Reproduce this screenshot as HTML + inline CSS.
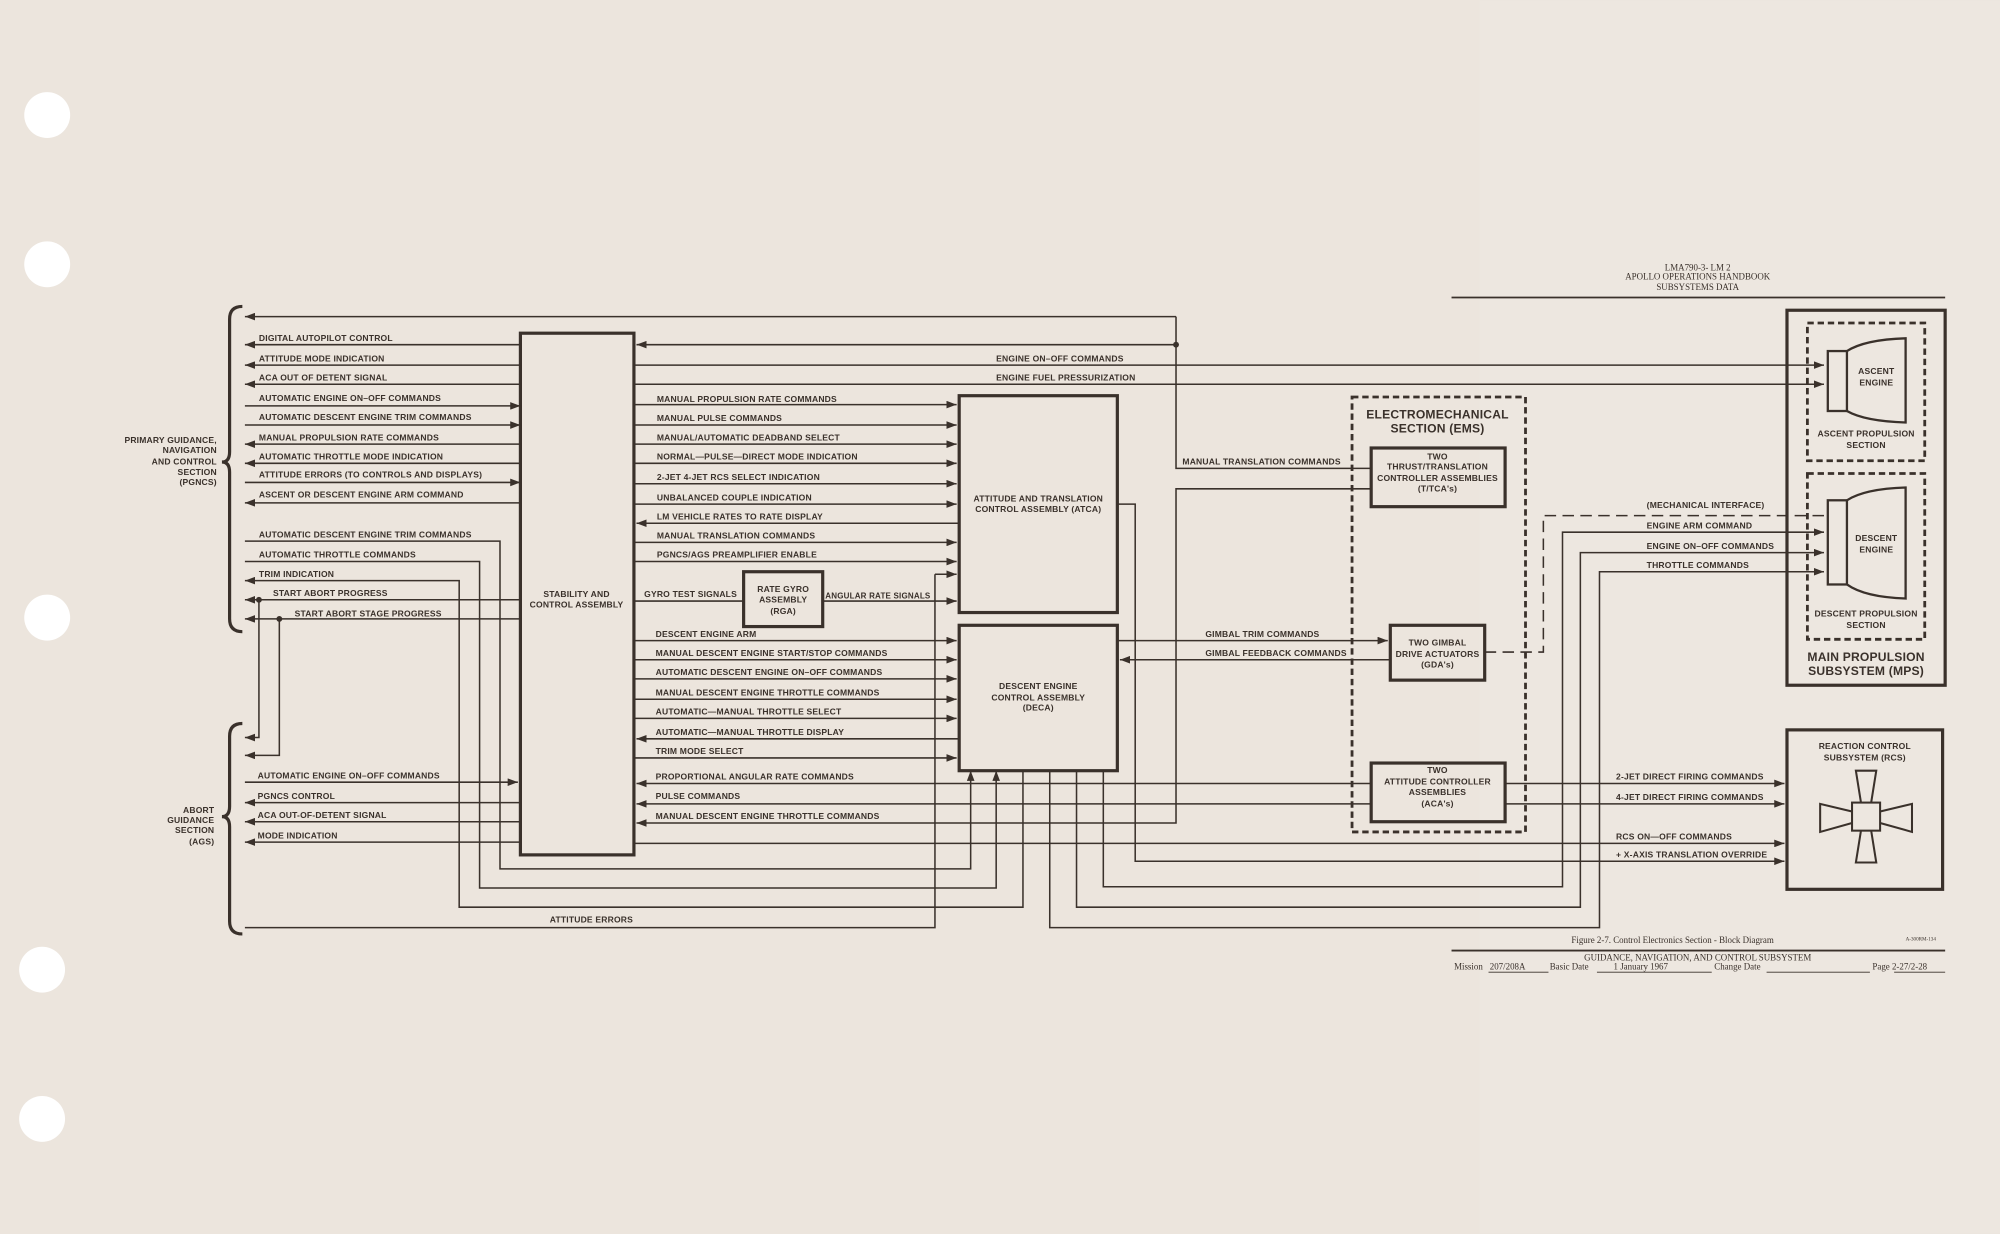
<!DOCTYPE html>
<html><head><meta charset="utf-8"><style>
html,body{margin:0;padding:0;background:#ece5dd;}
svg{display:block}
text{font-family:"Liberation Sans",sans-serif;font-size:6.7px;font-weight:bold;fill:#3a312b;letter-spacing:0.15px}
.s{font-family:"Liberation Serif",serif;font-size:7px;letter-spacing:0;font-weight:normal}
.b{font-weight:bold}
</style></head><body>
<svg width="2000" height="1234" viewBox="0 0 1568 967" xmlns="http://www.w3.org/2000/svg">
<defs>
<marker id="a" viewBox="0 0 8 6" refX="8" refY="3" markerWidth="8" markerHeight="6" markerUnits="userSpaceOnUse" orient="auto"><path d="M0,0L8,3L0,6z" fill="#3a312b"/></marker>
</defs>
<rect width="1568" height="967" fill="#ece5dd"/>
<rect x="1160" width="408" height="967" fill="#ede7e0"/>
<g fill="#fff"><circle cx="37" cy="90" r="18"/><circle cx="37" cy="207" r="18"/><circle cx="37" cy="484" r="18"/><circle cx="33" cy="760" r="18"/><circle cx="33" cy="877" r="18"/></g>

<g stroke="#3a312b" stroke-width="1.2" fill="none">
<path d="M190,240 Q180,240 180,250 L180,354 Q180,362 174,362 Q180,362 180,370 L180,485 Q180,495 190,495" stroke-width="2.5"/>
<path d="M190,567 Q180,567 180,577 L180,632 Q180,640 174,640 Q180,640 180,648 L180,722 Q180,732 190,732" stroke-width="2.5"/>
<rect x="408" y="261" width="89" height="409" stroke-width="2.5"/>
<rect x="752" y="310" width="124" height="170" stroke-width="2.5"/>
<rect x="752" y="490" width="124" height="114" stroke-width="2.5"/>
<rect x="583" y="448" width="62" height="43" stroke-width="2.5"/>
<rect x="1060" y="311" width="136" height="341" stroke-width="2.2" stroke-dasharray="5,3"/>
<rect x="1075" y="351" width="105" height="46" stroke-width="2.5"/>
<rect x="1090" y="490" width="74" height="43" stroke-width="2.5"/>
<rect x="1075" y="598" width="105" height="46" stroke-width="2.5"/>
<rect x="1401" y="243" width="124" height="294" stroke-width="2.5"/>
<rect x="1417" y="253" width="92" height="108" stroke-width="2.2" stroke-dasharray="5,3"/>
<rect x="1417" y="371" width="92" height="130" stroke-width="2.2" stroke-dasharray="5,3"/>
<rect x="1401" y="572" width="122" height="125" stroke-width="2.5"/>
<rect x="1433" y="275" width="15" height="47" stroke-width="1.8"/>
<path d="M1448,275 Q1462,266 1494,265 L1494,331 Q1462,330 1448,322" stroke-width="1.8"/>
<rect x="1433" y="392" width="15" height="66" stroke-width="1.8"/>
<path d="M1448,392 Q1462,383 1494,382 L1494,469 Q1462,468 1448,458" stroke-width="1.8"/>
<g stroke-width="1.6">
<rect x="1452" y="629" width="22" height="22"/>
<path d="M1459,629 L1455,604 L1471,604 L1467,629"/>
<path d="M1459,651 L1455,676 L1471,676 L1467,651"/>
<path d="M1452,636 L1427,630 L1427,652 L1452,645"/>
<path d="M1474,636 L1499,630 L1499,652 L1474,645"/>
</g>

<path d="M922,248 L192,248" marker-end="url(#a)"/>
<path d="M408,270 L192,270" marker-end="url(#a)"/>
<path d="M408,286 L192,286" marker-end="url(#a)"/>
<path d="M408,301 L192,301" marker-end="url(#a)"/>
<path d="M192,318 L408,318" marker-end="url(#a)"/>
<path d="M192,333 L408,333" marker-end="url(#a)"/>
<path d="M408,348 L192,348" marker-end="url(#a)"/>
<path d="M408,363 L192,363" marker-end="url(#a)"/>
<path d="M192,378 L408,378" marker-end="url(#a)"/>
<path d="M408,394 L192,394" marker-end="url(#a)"/>
<path d="M192,424 L392,424 L392,681 L761,681 L761,604" marker-end="url(#a)"/>
<path d="M192,440 L376,440 L376,696 L781,696 L781,604" marker-end="url(#a)"/>
<path d="M802,604 L802,711 L360,711 L360,455 L192,455" marker-end="url(#a)"/>
<path d="M408,470 L192,470" marker-end="url(#a)"/>
<path d="M408,485 L192,485" marker-end="url(#a)"/>
<path d="M203,470 L203,578 L192,578" marker-end="url(#a)"/>
<path d="M219,485 L219,592 L192,592" marker-end="url(#a)"/>
<path d="M192,613 L406,613" marker-end="url(#a)"/>
<path d="M408,629 L192,629" marker-end="url(#a)"/>
<path d="M408,644 L192,644" marker-end="url(#a)"/>
<path d="M408,660 L192,660" marker-end="url(#a)"/>
<path d="M192,727 L733,727 L733,450"/>
<path d="M733,450 L750,450" marker-end="url(#a)"/>
<path d="M922,270 L499,270" marker-end="url(#a)"/>
<path d="M497,286 L1430,286" marker-end="url(#a)"/>
<path d="M497,301 L1430,301" marker-end="url(#a)"/>
<path d="M497,317 L750,317" marker-end="url(#a)"/>
<path d="M497,333 L750,333" marker-end="url(#a)"/>
<path d="M497,348 L750,348" marker-end="url(#a)"/>
<path d="M497,363 L750,363" marker-end="url(#a)"/>
<path d="M497,379 L750,379" marker-end="url(#a)"/>
<path d="M497,395 L750,395" marker-end="url(#a)"/>
<path d="M752,410 L499,410" marker-end="url(#a)"/>
<path d="M497,425 L750,425" marker-end="url(#a)"/>
<path d="M497,440 L750,440" marker-end="url(#a)"/>
<path d="M497,471 L583,471"/>
<path d="M645,471 L750,471" marker-end="url(#a)"/>
<path d="M497,502 L750,502" marker-end="url(#a)"/>
<path d="M497,517 L750,517" marker-end="url(#a)"/>
<path d="M497,532 L750,532" marker-end="url(#a)"/>
<path d="M497,548 L750,548" marker-end="url(#a)"/>
<path d="M497,563 L750,563" marker-end="url(#a)"/>
<path d="M752,579 L499,579" marker-end="url(#a)"/>
<path d="M497,594 L750,594" marker-end="url(#a)"/>
<path d="M1075,614 L499,614" marker-end="url(#a)"/>
<path d="M1075,630 L499,630" marker-end="url(#a)"/>
<path d="M1075,383 L922,383 L922,645 L499,645" marker-end="url(#a)"/>
<path d="M497,661 L1399,661" marker-end="url(#a)"/>
<path d="M922,248 L922,367 L1075,367"/>
<path d="M876,395 L890,395 L890,675 L1399,675" marker-end="url(#a)"/>
<path d="M876,502 L1088,502" marker-end="url(#a)"/>
<path d="M1090,517 L878,517" marker-end="url(#a)"/>
<path d="M1180,614 L1399,614" marker-end="url(#a)"/>
<path d="M1180,630 L1399,630" marker-end="url(#a)"/>
<path d="M1164,511 L1210,511 L1210,404 L1430,404" stroke-dasharray="9,5"/>
<path d="M865,604 L865,695 L1225,695 L1225,417 L1430,417" marker-end="url(#a)"/>
<path d="M844,604 L844,711 L1239,711 L1239,433 L1430,433" marker-end="url(#a)"/>
<path d="M823,604 L823,727 L1254,727 L1254,448 L1430,448" marker-end="url(#a)"/>
<path d="M1138,233 L1525,233" stroke-width="1.3"/>
<path d="M1138,745 L1525,745" stroke-width="1.5"/>
</g>
<g fill="#3a312b"><circle cx="922" cy="270" r="2.3"/><circle cx="203" cy="470" r="2.3"/><circle cx="219" cy="485" r="2.3"/></g>

<g>
<text x="203" y="267">DIGITAL AUTOPILOT CONTROL</text>
<text x="203" y="283">ATTITUDE MODE INDICATION</text>
<text x="203" y="298">ACA OUT OF DETENT SIGNAL</text>
<text x="203" y="314">AUTOMATIC ENGINE ON–OFF COMMANDS</text>
<text x="203" y="329">AUTOMATIC DESCENT ENGINE TRIM COMMANDS</text>
<text x="203" y="345">MANUAL PROPULSION RATE COMMANDS</text>
<text x="203" y="360">AUTOMATIC THROTTLE MODE INDICATION</text>
<text x="203" y="374">ATTITUDE ERRORS (TO CONTROLS AND DISPLAYS)</text>
<text x="203" y="390">ASCENT OR DESCENT ENGINE ARM COMMAND</text>
<text x="203" y="421">AUTOMATIC DESCENT ENGINE TRIM COMMANDS</text>
<text x="203" y="437">AUTOMATIC THROTTLE COMMANDS</text>
<text x="203" y="452">TRIM INDICATION</text>
<text x="214" y="467">START ABORT PROGRESS</text>
<text x="231" y="483">START ABORT STAGE PROGRESS</text>
<text x="202" y="610">AUTOMATIC ENGINE ON–OFF COMMANDS</text>
<text x="202" y="626">PGNCS CONTROL</text>
<text x="202" y="641">ACA OUT-OF-DETENT SIGNAL</text>
<text x="202" y="657">MODE INDICATION</text>
<text x="431" y="723">ATTITUDE ERRORS</text>
<g text-anchor="end">
<text x="170" y="347">PRIMARY GUIDANCE,</text><text x="170" y="355">NAVIGATION</text><text x="170" y="364">AND CONTROL</text><text x="170" y="372">SECTION</text><text x="170" y="380">(PGNCS)</text>
<text x="168" y="637">ABORT</text><text x="168" y="645">GUIDANCE</text><text x="168" y="653">SECTION</text><text x="168" y="662">(AGS)</text>
</g>
<text x="515" y="315">MANUAL PROPULSION RATE COMMANDS</text>
<text x="515" y="330">MANUAL PULSE COMMANDS</text>
<text x="515" y="345">MANUAL/AUTOMATIC DEADBAND SELECT</text>
<text x="515" y="360">NORMAL—PULSE—DIRECT MODE INDICATION</text>
<text x="515" y="376">2-JET 4-JET RCS SELECT INDICATION</text>
<text x="515" y="392">UNBALANCED COUPLE INDICATION</text>
<text x="515" y="407">LM  VEHICLE RATES TO RATE DISPLAY</text>
<text x="515" y="422">MANUAL TRANSLATION COMMANDS</text>
<text x="515" y="437">PGNCS/AGS PREAMPLIFIER ENABLE</text>
<text x="505" y="468">GYRO TEST SIGNALS</text>
<text x="647" y="469" style="font-size:6.3px">ANGULAR RATE SIGNALS</text>
<text x="514" y="499">DESCENT ENGINE ARM</text>
<text x="514" y="514">MANUAL DESCENT ENGINE START/STOP COMMANDS</text>
<text x="514" y="529">AUTOMATIC DESCENT ENGINE ON–OFF COMMANDS</text>
<text x="514" y="545">MANUAL DESCENT ENGINE THROTTLE COMMANDS</text>
<text x="514" y="560">AUTOMATIC—MANUAL THROTTLE SELECT</text>
<text x="514" y="576">AUTOMATIC—MANUAL THROTTLE DISPLAY</text>
<text x="514" y="591">TRIM MODE SELECT</text>
<text x="514" y="611">PROPORTIONAL ANGULAR RATE COMMANDS</text>
<text x="514" y="626">PULSE COMMANDS</text>
<text x="514" y="642">MANUAL DESCENT ENGINE THROTTLE COMMANDS</text>
<text x="781" y="283">ENGINE ON–OFF COMMANDS</text>
<text x="781" y="298">ENGINE FUEL PRESSURIZATION</text>
<text x="927" y="364">MANUAL TRANSLATION COMMANDS</text>
<text x="945" y="499">GIMBAL TRIM COMMANDS</text>
<text x="945" y="514">GIMBAL FEEDBACK COMMANDS</text>
<text x="1291" y="398">(MECHANICAL INTERFACE)</text>
<text x="1291" y="414">ENGINE ARM COMMAND</text>
<text x="1291" y="430">ENGINE ON–OFF COMMANDS</text>
<text x="1291" y="445">THROTTLE COMMANDS</text>
<text x="1267" y="611">2-JET DIRECT FIRING COMMANDS</text>
<text x="1267" y="627">4-JET DIRECT FIRING COMMANDS</text>
<text x="1267" y="658">RCS ON—OFF COMMANDS</text>
<text x="1267" y="672">+ X-AXIS TRANSLATION OVERRIDE</text>
<g text-anchor="middle">
<text x="452" y="468">STABILITY AND</text><text x="452" y="476">CONTROL ASSEMBLY</text>
<text x="614" y="464">RATE GYRO</text><text x="614" y="472">ASSEMBLY</text><text x="614" y="481">(RGA)</text>
<text x="814" y="393">ATTITUDE AND TRANSLATION</text><text x="814" y="401">CONTROL ASSEMBLY (ATCA)</text>
<text x="814" y="540">DESCENT ENGINE</text><text x="814" y="549">CONTROL ASSEMBLY</text><text x="814" y="557">(DECA)</text>
<text x="1127" y="328" style="font-size:9.5px">ELECTROMECHANICAL</text>
<text x="1127" y="339" style="font-size:9.5px">SECTION (EMS)</text>
<text x="1127" y="360">TWO</text><text x="1127" y="368">THRUST/TRANSLATION</text><text x="1127" y="377">CONTROLLER ASSEMBLIES</text><text x="1127" y="385">(T/TCA's)</text>
<text x="1127" y="506">TWO GIMBAL</text><text x="1127" y="515">DRIVE ACTUATORS</text><text x="1127" y="523">(GDA's)</text>
<text x="1127" y="606">TWO</text><text x="1127" y="615">ATTITUDE CONTROLLER</text><text x="1127" y="623">ASSEMBLIES</text><text x="1127" y="632">(ACA's)</text>
<text x="1471" y="293">ASCENT</text><text x="1471" y="302">ENGINE</text>
<text x="1463" y="342">ASCENT PROPULSION</text><text x="1463" y="351">SECTION</text>
<text x="1471" y="424">DESCENT</text><text x="1471" y="433">ENGINE</text>
<text x="1463" y="483">DESCENT PROPULSION</text><text x="1463" y="492">SECTION</text>
<text x="1463" y="518" style="font-size:9.5px">MAIN PROPULSION</text>
<text x="1463" y="529" style="font-size:9.5px">SUBSYSTEM (MPS)</text>
<text x="1462" y="587">REACTION CONTROL</text><text x="1462" y="596">SUBSYSTEM (RCS)</text>
<text x="1331" y="212" class="s">LMA790-3- LM 2</text>
<text x="1331" y="219" class="s">APOLLO OPERATIONS HANDBOOK</text>
<text x="1331" y="227" class="s">SUBSYSTEMS DATA</text>
<text x="1331" y="753" class="s">GUIDANCE, NAVIGATION, AND CONTROL SUBSYSTEM</text>
</g>
<text x="1232" y="739" class="s">Figure 2-7.  Control Electronics Section - Block Diagram</text>
<text x="1494" y="737" class="s" style="font-size:4px">A-300RM-134</text>
<text x="1140" y="760" class="s">Mission</text>
<text x="1168" y="760" class="s">207/208A</text>
<text x="1215" y="760" class="s">Basic Date</text>
<text x="1265" y="760" class="s">1 January 1967</text>
<text x="1344" y="760" class="s">Change Date</text>
<text x="1468" y="760" class="s">Page 2-27/2-28</text>
</g>
<g stroke="#3a312b" stroke-width="0.7"><path d="M1167,762 L1214,762 M1252,762 L1342,762 M1385,762 L1466,762 M1485,762 L1525,762"/></g>
</svg>
</body></html>
